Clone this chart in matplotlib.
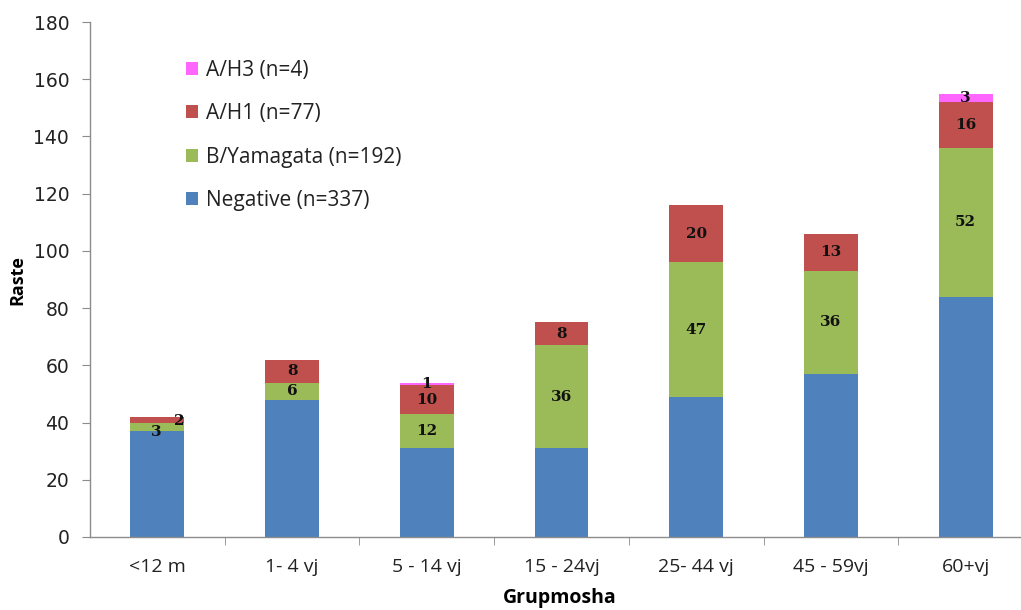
import matplotlib
matplotlib.use("Agg")
import matplotlib.pyplot as plt
import numpy as np

categories = ["<12 m", "1- 4 vj", "5 - 14 vj", "15 - 24vj", "25- 44 vj", "45 - 59vj", "60+vj"]
negative = [37, 48, 31, 31, 49, 57, 84]
yamagata = [3, 6, 12, 36, 47, 36, 52]
h1 = [2, 8, 10, 8, 20, 13, 16]
h3 = [0, 0, 1, 0, 0, 0, 3]
series_names = ["Negative (n=337)", "B/Yamagata (n=192)", "A/H1 (n=77)", "A/H3 (n=4)"]
colors = ["#4F81BD", "#9BBB59", "#C0504D", "#FF66FF"]
yticks = [0, 20, 40, 60, 80, 100, 120, 140, 160, 180]

fig = plt.figure(figsize=(10.21, 6.10), dpi=100)
ax = fig.add_axes([90/1021, 1-537/610, (1021-90)/1021, (537-22)/610])

x = np.arange(len(categories))
w = 0.4
data = [negative, yamagata, h1, h3]
bottom = np.zeros(len(categories))
handles = []
for k, (vals, c, name) in enumerate(zip(data, colors, series_names)):
    vals = np.array(vals, dtype=float)
    b = ax.bar(x, vals, w, bottom=bottom, color=c, label=name, edgecolor='none')
    handles.append(b)
    if k > 0:
        for i, v in enumerate(vals):
            if v <= 0:
                continue
            yc = bottom[i] + v / 2
            dx, dy = 0, 0
            if i == 0 and k == 1:
                dx, dy = -1, -4
            if i == 0 and k == 2:
                dx, dy = 16, -1
            ax.annotate(f"{int(v)}", (x[i], yc), xytext=(dx, dy), textcoords='offset points',
                        ha='center', va='center', fontsize=11, family='DejaVu Serif',
                        fontweight='bold', color='#111111')
    bottom += vals

ax.set_xlim(-0.5, 6.5 - 12/134.6)
ax.set_ylim(0, 180)
ax.set_yticks(yticks)
ax.set_xticks(x)
ax.set_xticklabels(categories)
ax.set_xticks(np.arange(0.5, 6.5, 1), minor=True)

for s in ['top', 'right']:
    ax.spines[s].set_visible(False)
for s in ['left', 'bottom']:
    ax.spines[s].set_color('#8C8C8C')
    ax.spines[s].set_linewidth(1.0)

ax.tick_params(axis='y', direction='out', length=6, color='#8C8C8C', pad=9, labelsize=13.5, labelcolor='#222222')
ax.tick_params(axis='x', which='major', length=0, pad=15, labelsize=14, labelcolor='#222222')
ax.tick_params(axis='x', which='minor', direction='out', length=6, color='#8C8C8C')

for lbl in ax.get_yticklabels():
    lbl.set_family('DejaVu Sans')
for lbl in ax.get_xticklabels():
    lbl.set_family('Open Sans')

ax.set_ylabel("Raste", fontsize=13, fontweight='bold', family='Open Sans')
ax.yaxis.set_label_coords(-64/931, (537-280)/515)
ax.set_xlabel("Grupmosha", fontsize=14, fontweight='bold', family='Open Sans')
ax.xaxis.set_label_coords((560-90)/931, -(588-537)/515)

leg = ax.legend(handles[::-1], series_names[::-1], loc='upper left',
                bbox_to_anchor=(171/1021, 1-45/610), bbox_transform=fig.transFigure,
                frameon=False, handlelength=0.58, handleheight=0.58,
                handletextpad=0.42, labelspacing=1.08, borderpad=0.2,
                prop={'family': 'Open Sans', 'size': 15})
for t in leg.get_texts():
    t.set_color('#222222')

fig.savefig("out.png", dpi=100)
